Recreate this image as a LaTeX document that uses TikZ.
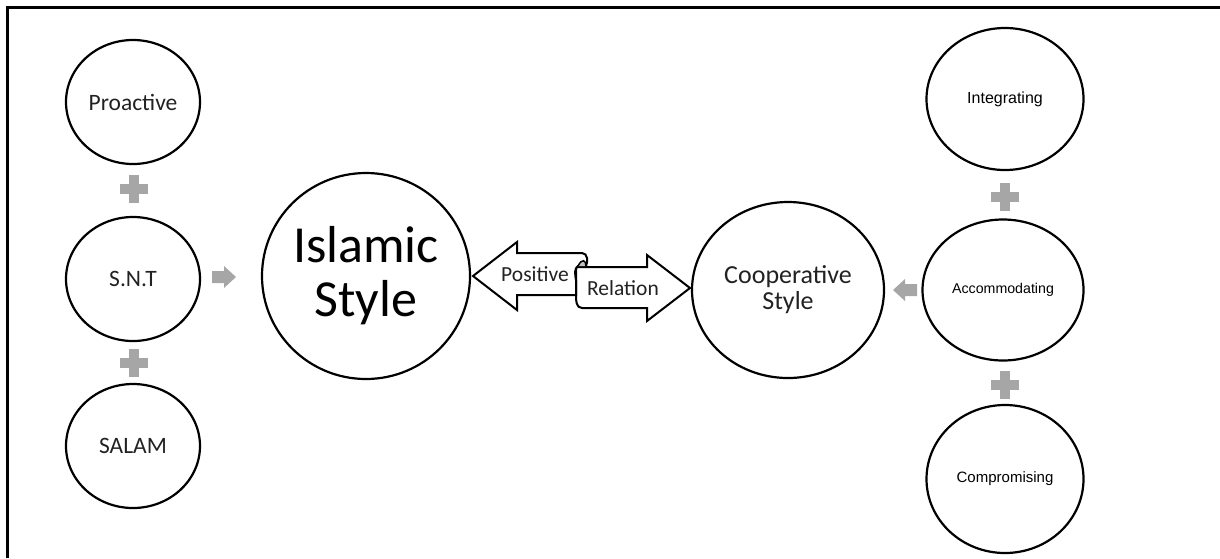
\documentclass[tikz,border=0pt]{standalone}
\usepackage{fontspec}
\setmainfont{Carlito}
\newfontfamily\arialf{Liberation Sans}
\usetikzlibrary{shapes.geometric}
\definecolor{plusgray}{HTML}{A6A6A6}
\definecolor{txt}{HTML}{222222}
\begin{document}
\begin{tikzpicture}[x=1pt,y=-1pt,
  bubble/.style={draw, ellipse, line width=2.2pt, inner sep=0pt},
  leftb/.style={bubble, minimum width=134pt, minimum height=124pt},
  rightb/.style={bubble, minimum width=157pt, minimum height=142pt},
  lefttxt/.style={text=txt, font=\fontsize{23.5}{26}\selectfont},
  righttxt/.style={text=black, font=\arialf\fontsize{#1}{18}\selectfont},
  pics/plussign/.style={code={
    \fill[plusgray] (-14,-5) rectangle (14,5);
    \fill[plusgray] (-5,-14) rectangle (5,14);}},
  pics/grayarrow/.style={code={
    \fill[plusgray] (-12,-6) -- (0,-6) -- (0,-11) -- (12,0) -- (0,11) -- (0,6) -- (-12,6) -- cycle;}},
  bigarrow/.style={draw, line width=2pt, fill=white, line join=miter}
]
\useasboundingbox (0,0) rectangle (1220,558);
\draw[line width=3pt] (7,558) -- (7,7) -- (1220,7);

% left column
\node[leftb] (pro) at (133,102) {};
\node[lefttxt] (protxt) at (pro.center) {Proactive};
\node[leftb] (snt) at (133,279) {};
\node[lefttxt] (snttxt) at (snt.center) {S.N.T};
\node[leftb] (sal) at (133,446) {};
\node[lefttxt] (saltxt) at (sal.center) {SALAM};
\pic at (134,189) {plussign};
\pic at (134,363) {plussign};
\pic at (224,277) {grayarrow};

% centre
\node[bubble, minimum width=208pt, minimum height=206pt] (isl) at (366,276) {};
\node[text=black, align=center, font=\fontsize{52}{54}\selectfont] (isltxt) at (isl.center) {Islamic\\Style};
\node[bubble, minimum width=192pt, minimum height=176pt] (coop) at (788,290) {};
\node[text=txt, align=center, font=\fontsize{26}{26}\selectfont] (cooptxt) at (coop.center) {Cooperative\\Style};

% double arrow (scroll)
\draw[bigarrow] (576,267) -- (647,267) -- (647,255) -- (690,288) -- (647,321) -- (647,308)
  -- (582,308) .. controls (576,308) and (576,300) .. (576,296) -- cycle;
\draw[bigarrow] (576,295) -- (517,295) -- (517,310) -- (473,276) -- (517,242) -- (517,253)
  -- (582,253) .. controls (588,253) and (588,262) .. (586,266)
  -- (578,266) .. controls (574,268) and (575,275) .. (576,280) -- cycle;
\fill[plusgray!70] (578,266) .. controls (582,258) and (586,260) .. (586,266) -- cycle;
\draw[line width=1.5pt] (578,266) .. controls (582,258) and (586,260) .. (586,266);
\node[font=\fontsize{21.5}{24}\selectfont, text=txt] (pos) at (535,274) {Positive};
\node[font=\fontsize{21.5}{24}\selectfont, text=txt] (rel) at (623,288) {Relation};

% right column
\node[rightb] (int) at (1005,99) {};
\node[righttxt=16] (inttxt) at (int.center) {Integrating};
\node[rightb, minimum width=161pt, minimum height=141pt] (acc) at (1003,290) {};
\node[righttxt=14.2] (acctxt) at (acc.center) {Accommodating};
\node[rightb, minimum height=148pt] (com) at (1005,479) {};
\node[righttxt=15] (comtxt) at (com.center) {Compromising};
\pic at (1005,197) {plussign};
\pic at (1005,385) {plussign};
\pic[xscale=-1] at (905,290) {grayarrow};
\end{tikzpicture}
\end{document}
